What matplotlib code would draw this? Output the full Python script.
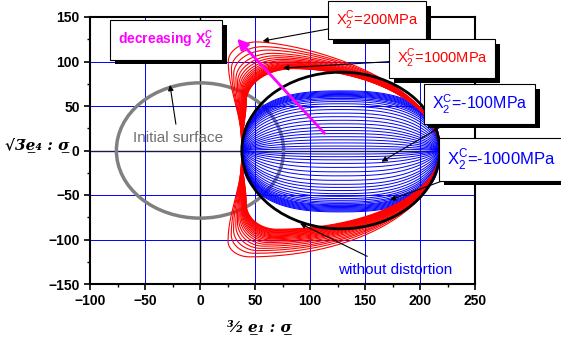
import numpy as np
import matplotlib
matplotlib.use("Agg")
import matplotlib.pyplot as plt
from matplotlib import patches, patheffects
from matplotlib.ticker import MultipleLocator

plt.rcParams["font.family"] = ["Liberation Sans", "DejaVu Sans"]
plt.rcParams["mathtext.fontset"] = "custom"
plt.rcParams["mathtext.rm"] = "Liberation Sans"
plt.rcParams["mathtext.bf"] = "Liberation Sans:bold"

# ----- values -----
X_TICKS = [-100, -50, 0, 50, 100, 150, 200, 250]
Y_TICKS = [-150, -100, -50, 0, 50, 100, 150]

INITIAL_RADIUS = 76                     # grey circle round (0, 0)
BLACK_CENTER = (128, 0)                 # surface without distortion
BLACK_HALF_W, BLACK_HALF_H = 90, 88
X_LEFT, X_RIGHT = 38, 218               # all distorted surfaces pass here on y = 0

# red family (X2c = 1000 ... 200 MPa), peak heights above / below y = 0, outer first
red_top_peak = [122, 116.7, 112.9, 109.2, 106.5, 104.3, 102.4, 100.8, 99.5, 98.4, 97.4,
                96.6, 95.9, 95.2, 94.6, 94.1, 93.6, 93.2, 92.8, 92.5, 92.2, 92.0]
red_bottom_peak = [119.5, 115.5, 112.5, 110, 107.5, 105.3, 103.4, 101.8, 100.4, 99.1, 97.9,
                   96.8, 95.8, 94.8, 93.9, 93.0, 92.2, 91.4, 90.6, 89.9, 89.2, 88.5]
# (peak x, lobe x, lobe y, arc exponent) for innermost and outermost red curve
red_top_inner, red_top_outer = (85, 42, 55, 1.9), (52, 25.7, 100, 1.5)
red_bot_inner, red_bot_outer = (70, 42, 60, 2.0), (45, 25.5, 102, 2.0)

# blue family (X2c = -100 ... -1000 MPa), heights above / below y = 0, outer first
blue_top = [67, 66, 65, 64, 63, 62, 61, 60, 58.5, 57, 55, 52.5, 49.5, 46, 42, 38,
            34, 30, 26, 22.5, 19, 15.5, 12, 8.5, 5, 2]
blue_bottom = [69, 68, 67, 66, 65, 64, 63, 62, 61, 59.5, 58, 56, 54, 51.5, 48.5, 45,
               41.5, 38, 33.5, 28.5, 24, 19, 14.5, 10.5, 7, 4]


def red_half(peak, xp, xl, yl, m):
    # right arc, rounded corner into the lobe, then down to (X_LEFT, 0)
    u = np.linspace(1, 0, 150)
    x1 = xp + (X_RIGHT - xp) * u
    y1 = peak * np.sqrt(1 - u**m)
    psi = np.linspace(0, np.pi / 2, 80)
    x2 = xp - (xp - xl) * np.sin(psi)
    y2 = yl + (peak - yl) * np.cos(psi)
    t = np.linspace(1, 0, 80)
    x3 = X_LEFT - (X_LEFT - xl) * np.sin(np.pi / 2 * t) ** 2.5
    y3 = yl * t
    return np.concatenate([x1, x2, x3]), np.concatenate([y1, y2, y3])


fig = plt.figure(figsize=(5.61, 3.43), dpi=100)
ax = fig.add_axes([90 / 561, 59 / 343, 385 / 561, 267 / 343])
ax.set_xlim(-100, 250)
ax.set_ylim(-150, 150)

for v in X_TICKS[1:-1]:
    ax.axvline(v, color="#000000" if v == 0 else "#0000ff", lw=1.0 if v == 0 else 0.7, zorder=0)
for v in Y_TICKS[1:-1]:
    ax.axhline(v, color="#1a1a50" if v == 0 else "#0000ff", lw=1.0 if v == 0 else 0.7, zorder=0)

ax.add_patch(patches.Circle((0, 0), INITIAL_RADIUS, fill=False, ec="#808080", lw=2.5, zorder=2))

# blue surfaces
u = np.linspace(-1, 1, 400)
xb = BLACK_CENTER[0] + BLACK_HALF_W * u
for ht, hb in zip(blue_top, blue_bottom):
    for h, s, hmax in ((ht, 1, blue_top[0]), (hb, -1, blue_bottom[0])):
        g = 1 - h / hmax
        p = 2.6 + 0.4 * g
        q = 1 / 2.6 + (1 - 1 / 2.6) * g
        ax.plot(xb, s * h * (1 - np.abs(u) ** p) ** q, color="#0000ff", lw=0.7, zorder=3)

# red surfaces
lo, hi = min(red_top_peak), max(red_top_peak)
for pt, pb in zip(red_top_peak, red_bottom_peak):
    f = (pt - lo) / (hi - lo)
    par_t = [a + (b - a) * f for a, b in zip(red_top_inner, red_top_outer)]
    par_b = [a + (b - a) * f for a, b in zip(red_bot_inner, red_bot_outer)]
    x, y = red_half(pt, *par_t)
    ax.plot(x, y, color="#ff0000", lw=0.8, zorder=4)
    x, y = red_half(pb, *par_b)
    ax.plot(x, -y, color="#ff0000", lw=0.8, zorder=4)

ax.add_patch(patches.Ellipse(BLACK_CENTER, 2 * BLACK_HALF_W, 2 * BLACK_HALF_H,
                             fill=False, ec="black", lw=2, zorder=5))

# magenta arrow
ax.annotate("", xy=(32, 128), xytext=(115, 17),
            arrowprops=dict(arrowstyle="-|>", color="#ff00ff", lw=2, mutation_scale=16), zorder=6)

shadow = [patheffects.SimplePatchShadow(offset=(3.5, -3.5), shadow_rgbFace="black", alpha=1),
          patheffects.Normal()]
thin = dict(arrowstyle="-|>", color="black", lw=0.8, mutation_scale=8, shrinkA=0, shrinkB=0)


def boxed(text, xy, xytext, color, size):
    t = ax.annotate(text, xy=xy, xytext=xytext, color=color, fontsize=size,
                    ha="center", va="center", annotation_clip=False,
                    bbox=dict(boxstyle="square,pad=0.5", fc="white", ec="black", lw=0.8),
                    arrowprops=thin, zorder=8)
    t.get_bbox_patch().set_path_effects(shadow)
    return t


t = ax.text(-30.9, 124.2, r"decreasing X$_\mathbf{2}^\mathbf{C}$", color="#ff00ff", fontsize=10,
            weight="bold", ha="center", va="center", zorder=8,
            bbox=dict(boxstyle="square,pad=0.6", fc="white", ec="black", lw=0.8))
t.get_bbox_patch().set_path_effects(shadow)

boxed(r"X$_2^\mathrm{C}$=200MPa", (57, 123), (160.9, 146.6), "#ff0000", 10.5)
boxed(r"X$_2^\mathrm{C}$=1000MPa", (75.5, 92.7), (220, 103.4), "#ff0000", 10.5)
boxed(r"X$_2^\mathrm{C}$=-100MPa", (165, -12.6), (254, 52.2), "#0000ff", 11.5)
boxed(r"X$_2^\mathrm{C}$=-1000MPa", (172.7, -55.6), (274, -10), "#0000ff", 12)

ax.annotate("Initial surface", xy=(-27.3, 73.6), xytext=(-20, 14), color="#707070", fontsize=11,
            ha="center", va="center", arrowprops=dict(thin, shrinkA=3), zorder=8)
ax.annotate("without distortion", xy=(91, -82), xytext=(177, -134), color="#0000ff", fontsize=11,
            ha="center", va="center", arrowprops=dict(thin, shrinkA=6), zorder=8)

ax.set_xticks(X_TICKS)
ax.set_yticks(Y_TICKS)
ax.xaxis.set_minor_locator(MultipleLocator(25))
ax.yaxis.set_minor_locator(MultipleLocator(25))
ax.tick_params(which="major", direction="out", length=4, width=1.2, labelsize=10)
ax.tick_params(which="minor", direction="out", length=2.5, width=1)
for lab in ax.get_xticklabels() + ax.get_yticklabels():
    lab.set_fontweight("bold")
for sp in ax.spines.values():
    sp.set_linewidth(1.5)

serif = ["DejaVu Serif", "DejaVu Sans"]
fig.text(37 / 561, 1 - 145 / 343, "\u221a3\u0305e\u0332\u2084 : \u03c3\u0332", family=serif,
         style="italic", weight="bold", fontsize=11, ha="center", va="center")
fig.text(259 / 561, 1 - 327 / 343, "\u00b3\u2044\u2082 e\u0332\u2081 : \u03c3\u0332", family=serif,
         style="italic", weight="bold", fontsize=11, ha="center", va="center")

fig.savefig("out.png", dpi=100)
